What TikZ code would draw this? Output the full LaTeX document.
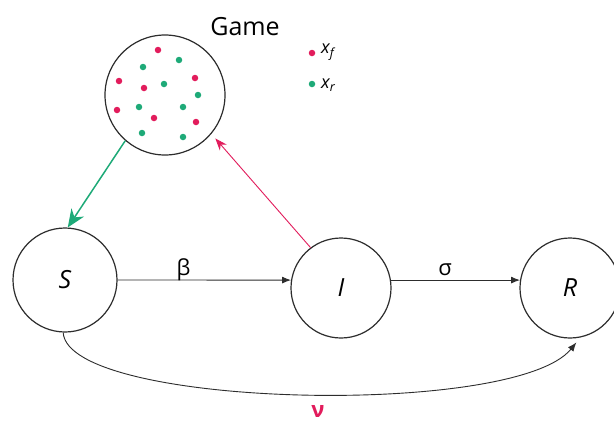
\documentclass[tikz,border=0pt]{standalone}
\usepackage{fontspec}
\setmainfont{Open Sans}
\setsansfont{Open Sans}
\usetikzlibrary{arrows.meta}
\definecolor{gred}{RGB}{226,28,92}
\definecolor{ggreen}{RGB}{30,170,120}
\definecolor{circ}{RGB}{45,45,45}
\begin{document}
\begin{tikzpicture}[x=1pt,y=-1pt,
  state/.style={circle,draw=circ,line width=1.2pt,minimum size=#1,inner sep=0pt,font=\fontsize{25}{28}\selectfont\itshape},
  flow/.style={line width=0.9pt,draw=circ,-{Latex[length=9pt,width=7pt]}},
  rdot/.style={circle,fill=gred,inner sep=0pt,minimum size=6.5pt},
  gdot/.style={circle,fill=ggreen,inner sep=0pt,minimum size=6.5pt},
  lbl/.style={font=\fontsize{22}{24}\selectfont},
  leg/.style={font=\fontsize{18}{20}\selectfont\itshape,anchor=west,inner sep=0pt}]
\useasboundingbox (0,0) rectangle (614,432);
\fill[white] (0,0) rectangle (614,432);
% states
\node[state=104pt] (S) at (65,280) {S};
\node[state=100pt] (I) at (341,288) {I};
\node[state=100pt] (R) at (570,288) {R};
\node[state=120pt,font=\normalsize] (G) at (165,95) {};
\node[font=\fontsize{25}{28}\selectfont] (gt) at (245,27) {Game};
% dots
\foreach \p/\n in {{(158,50)}/r1,{(119,81)}/r2,{(144,88)}/r3,{(195,78)}/r4,{(117,110)}/r5,{(154,118)}/r6,{(196,122)}/r7}
  \node[rdot] (\n) at \p {};
\foreach \p/\n in {{(143,67)}/g1,{(179,60)}/g2,{(164,84)}/g3,{(198,95)}/g4,{(139,107)}/g5,{(183,107)}/g6,{(142,133)}/g7,{(183,137)}/g8}
  \node[gdot] (\n) at \p {};
% legend
\node[rdot] (lr) at (312,53) {};
\node[gdot] (lg) at (312,84) {};
\node[leg] (lxf) at (321,52) {x\textsubscript{f}};
\node[leg] (lxr) at (321,85) {x\textsubscript{r}};
% arrows
\draw[flow] (S.east) -- (I.171) node[lbl,pos=0.38,above=-5pt] (beta) {β};
\draw[flow] (I.9) -- (R.171) node[lbl,pos=0.42,above=1pt] (sigma) {σ};
\draw[flow] (S.268) .. controls (68,408) and (515,418) .. ([shift={(2pt,-4pt)}]R.275);
\draw[line width=1.5pt,draw=ggreen,-{Stealth[length=18pt,width=15pt]}] (G.229) -- (S.87);
\draw[line width=0.9pt,draw=gred,-{Stealth[length=12pt,width=9pt]},shorten >=6pt] (I.127) -- (G.320);
\node[font=\fontsize{22}{24}\selectfont\bfseries,text=gred] (nu) at (318,411) {ν};
\end{tikzpicture}
\end{document}
